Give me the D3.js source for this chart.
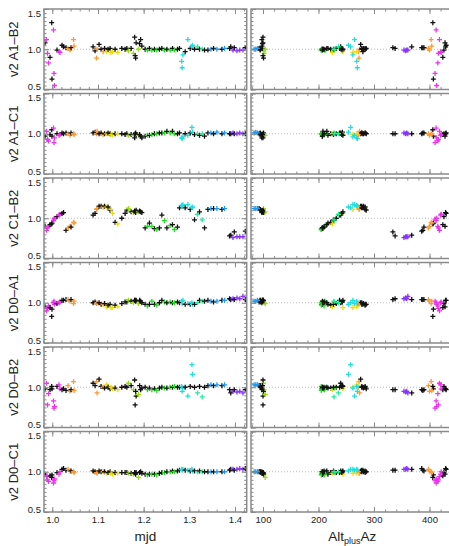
<!DOCTYPE html>
<html>
<head>
<meta charset="utf-8">
<script src="https://cdn.jsdelivr.net/npm/d3@7"></script>
<style>
  body { margin: 0; background: #fff; }
  svg { display: block; font-family: "Liberation Sans", Arial, sans-serif; }
</style>
</head>
<body>
<div id="chart"></div>
<script>
// Baselines (one row of panels each) and target colours
const baselines = ["A1\u2013B2", "A1\u2013C1", "C1\u2013B2", "D0\u2013A1", "D0\u2013B2", "D0\u2013C1"];
const targetColors = ["#111111", "#ee33ee", "#ff9933", "#eedd00", "#99dd11",
                      "#22dd22", "#22ee99", "#22dddd", "#2299ee", "#8833ff"];

// Observations: time, alt+az, target index
const mjd = [
  0.9840, 0.9873, 0.9895, 0.9917, 0.9950, 0.9987, 0.9993, 1.0026, 1.0037, 1.0048,
  1.0103, 1.0147, 1.0169, 1.0213, 1.0246, 1.0300, 1.0344, 1.0388, 1.0410, 1.0465,
  1.0476, 1.0893, 1.0936, 1.0969, 1.0980, 1.1024, 1.1068, 1.1112, 1.1145, 1.1193,
  1.1221, 1.1265, 1.1287, 1.1320, 1.1375, 1.1434, 1.1522, 1.1594, 1.1632, 1.1667,
  1.1726, 1.1776, 1.1803, 1.1814, 1.1825, 1.1836, 1.1886, 1.1912, 1.1934, 1.1961,
  1.2033, 1.2083, 1.2127, 1.2180, 1.2237, 1.2289, 1.2346, 1.2399, 1.2456, 1.2509,
  1.2581, 1.2632, 1.2675, 1.2741, 1.2785, 1.2833, 1.2844, 1.2860, 1.2910, 1.2969,
  1.3020, 1.3057, 1.3070, 1.3114, 1.3180, 1.3224, 1.3283, 1.3333, 1.3408, 1.3474,
  1.3531, 1.3605, 1.3715, 1.3772, 1.3882, 1.3908, 1.3956, 1.3985, 1.4044, 1.4105,
  1.4175, 1.4226
];
const altPlusAz = [
  428, 418, 416, 415, 424, 406, 407, 412, 410, 413,
  426, 420, 421, 430, 429, 388, 398, 400, 390, 403,
  404, 240, 243, 273, 274, 276, 278, 272, 281, 269,
  284, 286, 262, 244, 222, 225, 232, 242, 96, 101,
  99, 102, 100, 100, 101, 100, 104, 99, 98, 98,
  207, 210, 217, 211, 206, 205, 208, 238, 228, 208,
  213, 215, 205, 210, 278, 269, 270, 262, 280, 265,
  284, 258, 254, 227, 236, 244, 228, 207, 95, 84,
  93, 87, 95, 90, 338, 368, 354, 334, 357, 359,
  361, 386
];
const target = [
  0, 1, 1, 1, 0, 0, 0, 1, 1, 1,
  0, 1, 1, 0, 0, 0, 2, 2, 0, 2,
  2, 0, 0, 2, 2, 0, 0, 2, 0, 3,
  0, 0, 3, 3, 0, 3, 0, 0, 0, 4,
  0, 4, 0, 0, 0, 0, 4, 0, 0, 0,
  0, 5, 0, 5, 0, 5, 0, 0, 5, 0,
  5, 0, 5, 0, 0, 7, 7, 7, 0, 7,
  0, 7, 7, 0, 6, 0, 6, 0, 0, 8,
  0, 8, 0, 8, 0, 0, 9, 0, 9, 9,
  9, 0
];

// Squared visibilities per baseline
const v2A1B2 = [
  1.08, 1.12, 0.95, 0.83, 0.90, 1.33, 0.63, 1.24, 0.70, 0.55,
  0.99, 0.97, 0.96, 1.05, 1.03, 1.02, 1.01, 0.99, 1.02, 1.12,
  1.04, 1.03, 0.98, 0.89, 1.00, 1.06, 1.00, 0.97, 1.01, 0.97,
  1.00, 1.01, 0.96, 0.97, 1.00, 0.96, 1.01, 1.00, 1.01, 0.98,
  1.01, 0.95, 1.15, 0.92, 0.89, 1.08, 1.00, 1.07, 1.12, 1.04,
  1.00, 0.99, 1.01, 0.99, 1.00, 0.99, 1.00, 1.01, 0.99, 1.00,
  0.99, 1.01, 0.99, 1.00, 1.01, 0.85, 0.77, 0.93, 0.97, 1.12,
  1.01, 1.03, 1.05, 1.00, 1.03, 1.00, 1.00, 0.99, 0.99, 1.00,
  1.01, 1.00, 1.00, 1.01, 1.01, 1.03, 0.99, 1.02, 0.98, 0.99,
  0.99, 1.02
];
const v2A1C1 = [
  0.97, 1.03, 0.93, 0.91, 0.99, 1.05, 0.97, 1.07, 0.89, 0.95,
  1.00, 0.98, 0.99, 1.01, 1.00, 1.01, 1.00, 0.98, 1.01, 1.00,
  0.99, 1.01, 1.02, 1.00, 1.03, 1.00, 1.01, 0.99, 1.00, 1.00,
  1.01, 1.00, 0.99, 0.99, 1.00, 1.00, 1.00, 0.99, 1.00, 0.98,
  0.99, 0.98, 0.95, 1.00, 1.01, 0.99, 0.98, 0.99, 0.97, 0.95,
  0.97, 0.98, 0.98, 0.99, 1.00, 1.00, 1.01, 1.01, 1.01, 1.03,
  1.01, 1.03, 1.00, 1.00, 1.01, 0.95, 0.94, 0.96, 1.00, 0.98,
  1.01, 1.08, 1.02, 0.99, 1.00, 0.98, 1.00, 0.97, 1.01, 1.01,
  1.00, 1.02, 1.00, 1.01, 1.00, 1.00, 1.01, 1.00, 1.00, 1.01,
  1.00, 1.00
];
const v2C1B2 = [
  0.90, 0.85, 0.88, 0.90, 0.92, 0.93, 0.94, 0.97, 0.99, 1.00,
  1.02, 1.04, 1.05, 1.06, 1.07, 0.85, 0.88, 0.90, 0.89, 0.95,
  0.94, 1.04, 1.06, 1.11, 1.12, 1.15, 1.15, 1.14, 1.15, 1.14,
  1.14, 1.10, 1.11, 1.06, 0.95, 0.93, 1.00, 1.06, 1.10, 1.12,
  1.08, 1.07, 1.09, 1.08, 1.07, 1.10, 1.08, 1.09, 1.08, 1.07,
  0.88, 0.90, 0.94, 0.90, 0.87, 0.86, 0.88, 1.04, 0.97, 0.88,
  0.91, 0.92, 0.86, 0.89, 1.13, 1.16, 1.15, 1.17, 1.13, 1.17,
  1.11, 1.13, 1.14, 0.98, 1.05, 1.08, 0.98, 0.88, 1.11, 1.12,
  1.12, 1.12, 1.11, 1.12, 0.78, 0.79, 0.76, 0.83, 0.77, 0.77,
  0.77, 0.84
];
const v2D0A1 = [
  0.95, 0.90, 0.93, 0.96, 0.94, 0.83, 0.92, 1.00, 1.02, 0.98,
  0.99, 1.00, 1.01, 1.03, 1.03, 1.04, 1.04, 1.02, 1.04, 0.99,
  1.02, 1.00, 1.01, 0.99, 1.00, 1.00, 0.98, 0.98, 0.99, 0.95,
  0.97, 0.98, 0.94, 0.94, 0.97, 0.95, 0.99, 1.01, 1.01, 1.03,
  1.02, 1.00, 1.03, 1.03, 1.02, 1.03, 0.99, 1.03, 1.02, 1.00,
  0.98, 0.96, 0.98, 1.02, 0.98, 0.97, 1.00, 1.03, 1.01, 1.00,
  1.01, 1.00, 1.00, 1.01, 1.00, 1.02, 0.99, 1.03, 0.98, 0.99,
  0.98, 1.00, 0.98, 0.98, 1.00, 1.03, 1.02, 1.02, 1.03, 1.02,
  1.01, 1.02, 1.03, 1.03, 1.05, 1.04, 1.05, 1.04, 1.06, 1.05,
  1.08, 1.04
];
const v2D0B2 = [
  0.98, 1.05, 0.78, 0.92, 0.97, 1.01, 0.98, 0.83, 0.74, 0.76,
  1.01, 1.03, 0.98, 0.97, 0.98, 0.96, 1.02, 0.95, 0.97, 1.07,
  0.96, 1.05, 1.02, 1.07, 0.93, 1.10, 1.01, 1.00, 0.99, 1.03,
  1.00, 0.98, 1.00, 0.98, 0.99, 0.97, 1.00, 1.01, 1.00, 1.05,
  1.02, 0.97, 1.09, 0.78, 0.95, 0.89, 0.91, 1.02, 0.97, 0.99,
  1.00, 0.97, 0.99, 0.97, 0.98, 0.96, 0.99, 1.00, 0.99, 0.99,
  1.00, 1.00, 1.01, 1.00, 1.00, 1.01, 0.95, 0.99, 1.00, 0.89,
  1.01, 1.28, 1.16, 1.00, 0.93, 1.01, 0.88, 1.00, 1.02, 1.03,
  1.02, 1.03, 1.02, 1.03, 0.97, 0.93, 0.95, 0.97, 0.94, 0.95,
  0.93, 0.97
];
const v2D0C1 = [
  0.97, 0.94, 0.90, 0.88, 0.95, 0.93, 0.96, 0.86, 0.89, 0.91,
  0.99, 0.97, 1.00, 1.03, 1.04, 1.02, 1.03, 1.01, 1.01, 1.00,
  0.99, 1.01, 1.00, 0.99, 0.98, 1.01, 1.00, 1.00, 1.00, 0.98,
  0.99, 1.00, 0.98, 0.97, 0.99, 0.98, 0.99, 0.99, 0.99, 0.98,
  0.98, 0.97, 0.99, 0.98, 0.97, 0.99, 0.93, 0.99, 1.00, 0.98,
  0.97, 0.96, 0.97, 0.97, 0.97, 0.96, 0.98, 0.99, 0.99, 1.00,
  1.00, 1.01, 1.00, 1.01, 1.02, 1.03, 1.02, 1.03, 1.02, 1.02,
  1.01, 1.03, 1.01, 1.01, 1.00, 1.01, 1.00, 1.00, 1.00, 1.00,
  1.00, 1.00, 1.00, 1.00, 1.02, 1.03, 1.03, 1.02, 1.03, 1.04,
  1.03, 1.04
];

// Tick labels
const mjdTicks = [1.0, 1.1, 1.2, 1.3, 1.4];
const azTicks = [100, 200, 300, 400];
const v2Ticks = [0.5, 1.0, 1.5];

const series = [v2A1B2, v2A1C1, v2C1B2, v2D0A1, v2D0B2, v2D0C1];

// Layout
const width = 449, height = 546;
const colLeft = [44, 251];
const colWidth = 202.7;
const rowTop = 9, rowStep = 84.5, rowHeight = 80.5;
const frameColor = "#8a8a8a";
const textColor = "#222";

const svg = d3.select("#chart")
  .append("svg")
  .attr("width", width)
  .attr("height", height);

// Scales
const xMjd = d3.scaleLinear().domain([0.9818, 1.4257]).range([0, colWidth]);
const xAz = d3.scaleLinear().domain([78.4, 443.6]).range([0, colWidth]);
const y = d3.scaleLinear().domain([0.5, 1.5]).range([rowHeight, 0]);

const columns = [
  { x: xMjd, xs: mjd, major: mjdTicks, minor: d3.range(49, 72).map(i => i * 0.02), fmt: d3.format(".1f") },
  { x: xAz, xs: altPlusAz, major: azTicks, minor: d3.range(4, 23).map(i => i * 20), fmt: d3.format("d") }
];
const yMinor = d3.range(10, 31).map(i => i * 0.05);

const plus = "M-2.5,0H2.5M0,-2.5V2.5";

function addTicks(g, axis, transform, withLabels) {
  const a = g.append("g").attr("transform", transform).call(axis);
  a.select(".domain").remove();
  a.selectAll("line").attr("stroke", frameColor).attr("stroke-width", 1);
  a.attr("font-family", null).attr("font-size", 9.5);
  if (withLabels) {
    a.selectAll("text").attr("fill", textColor);
  } else {
    a.selectAll("text").remove();
  }
  return a;
}

series.forEach(function (vals, r) {
  columns.forEach(function (col, c) {
    const g = svg.append("g")
      .attr("transform", "translate(" + colLeft[c] + "," + (rowTop + r * rowStep) + ")");

    const clipId = "clip-" + r + "-" + c;
    g.append("clipPath").attr("id", clipId)
      .append("rect").attr("width", colWidth).attr("height", rowHeight);

    // reference line at 1.0
    g.append("line")
      .attr("x1", 0).attr("x2", colWidth)
      .attr("y1", y(1)).attr("y2", y(1))
      .attr("stroke", "#aaa")
      .attr("stroke-width", 0.8)
      .attr("stroke-dasharray", "1,2");

    // points
    g.append("g")
      .attr("clip-path", "url(#" + clipId + ")")
      .selectAll("path")
      .data(vals.map((v, i) => ({ x: col.xs[i], v: v, t: target[i] })))
      .enter()
      .append("path")
      .attr("d", plus)
      .attr("transform", d => "translate(" + col.x(d.x) + "," + y(d.v) + ")")
      .attr("stroke", d => targetColors[d.t])
      .attr("stroke-width", 1.3)
      .attr("fill", "none");

    // y ticks (inward on both sides)
    addTicks(g, d3.axisLeft(y).tickValues(yMinor).tickSize(-2.5), null, false);
    const yLab = addTicks(g, d3.axisLeft(y).tickValues(v2Ticks).tickSize(-5).tickPadding(3).tickFormat(d3.format(".1f")),
      null, c === 0);
    // keep the 0.5 / 1.5 labels of stacked panels apart
    yLab.selectAll("text")
      .attr("dy", d => d === 1.5 ? "0.74em" : d === 0.5 ? "0.02em" : "0.32em");
    addTicks(g, d3.axisRight(y).tickValues(yMinor).tickSize(-2.5), "translate(" + colWidth + ",0)", false);
    addTicks(g, d3.axisRight(y).tickValues(v2Ticks).tickSize(-5), "translate(" + colWidth + ",0)", false);

    // x ticks (inward on top and bottom)
    addTicks(g, d3.axisTop(col.x).tickValues(col.minor).tickSize(-2.5), null, false);
    addTicks(g, d3.axisTop(col.x).tickValues(col.major).tickSize(-5), null, false);
    addTicks(g, d3.axisBottom(col.x).tickValues(col.minor).tickSize(-2.5), "translate(0," + rowHeight + ")", false);
    addTicks(g, d3.axisBottom(col.x).tickValues(col.major).tickSize(-5).tickPadding(4).tickFormat(col.fmt),
      "translate(0," + rowHeight + ")", r === series.length - 1);

    // frame
    g.append("rect")
      .attr("width", colWidth).attr("height", rowHeight)
      .attr("fill", "none")
      .attr("stroke", frameColor)
      .attr("stroke-width", 1.5);
  });

  // row label
  svg.append("text")
    .attr("transform", "translate(18," + (rowTop + r * rowStep + rowHeight / 2) + ") rotate(-90)")
    .attr("text-anchor", "middle")
    .attr("font-size", 13)
    .attr("fill", textColor)
    .text("v2 " + baselines[r]);
});

// x titles
svg.append("text")
  .attr("x", colLeft[0] + colWidth / 2).attr("y", 541)
  .attr("text-anchor", "middle")
  .attr("font-size", 13.5)
  .attr("fill", textColor)
  .text("mjd");

const azTitle = svg.append("text")
  .attr("x", colLeft[1] + colWidth / 2).attr("y", 541)
  .attr("text-anchor", "middle")
  .attr("font-size", 13.5)
  .attr("fill", textColor);
azTitle.append("tspan").text("Alt");
azTitle.append("tspan").attr("font-size", 9).attr("dy", 3).text("plus");
azTitle.append("tspan").attr("dy", -3).text("Az");
</script>
</body>
</html>
